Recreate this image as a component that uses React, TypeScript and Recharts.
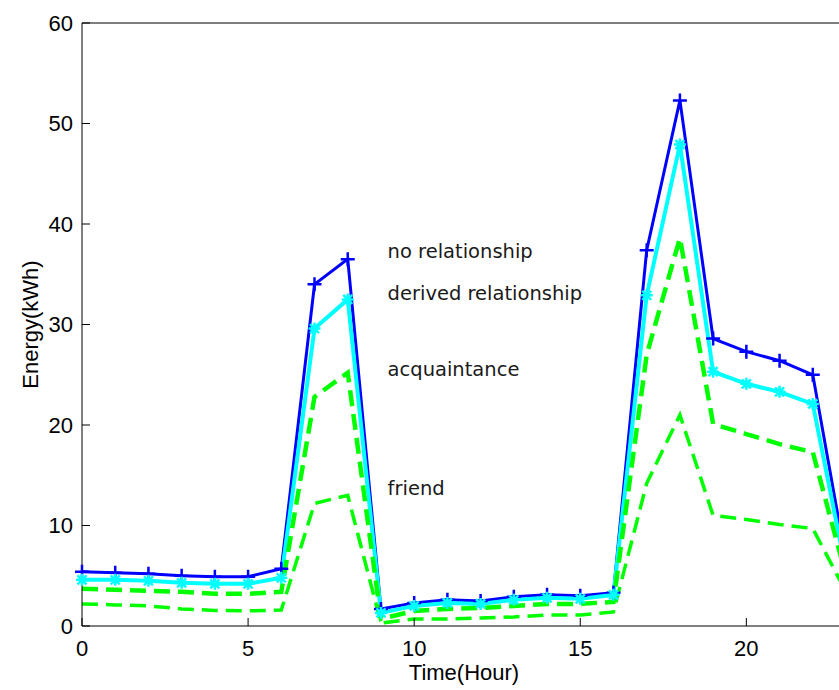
import { LineChart, Line, XAxis, YAxis, ReferenceDot } from "recharts"

// Hours of the day
const hours = [0, 1, 2, 3, 4, 5, 6, 7, 8, 9, 10, 11, 12, 13, 14, 15, 16, 17, 18, 19, 20, 21, 22, 23]

// Energy per hour (kWh)
const noRelationship = [5.4, 5.3, 5.2, 5.0, 4.9, 4.9, 5.7, 34.0, 36.5, 1.7, 2.3, 2.6, 2.5, 2.9, 3.1, 3.0, 3.3, 37.4, 52.3, 28.6, 27.3, 26.4, 25.0, 6.5]
const derivedRelationship = [4.6, 4.6, 4.5, 4.3, 4.2, 4.2, 4.8, 29.6, 32.5, 1.3, 2.0, 2.3, 2.2, 2.6, 2.8, 2.7, 3.1, 32.9, 47.9, 25.3, 24.1, 23.3, 22.1, 5.5]
const acquaintance = [3.7, 3.6, 3.5, 3.4, 3.2, 3.2, 3.4, 22.8, 25.2, 0.7, 1.5, 1.7, 1.8, 2.0, 2.2, 2.2, 2.4, 27.0, 38.6, 20.1, 19.1, 18.1, 17.3, 5.0]
const friend = [2.2, 2.1, 2.0, 1.7, 1.55, 1.5, 1.6, 12.2, 13.0, 0.3, 0.7, 0.7, 0.8, 0.9, 1.1, 1.1, 1.4, 14.2, 21.0, 11.0, 10.6, 10.1, 9.7, 3.4]

const xTicks = [0, 5, 10, 15, 20]
const yTicks = [0, 10, 20, 30, 40, 50, 60]

// in-plot text annotations (data coordinates)
const noteText = ["no relationship", "derived relationship", "acquaintance", "friend"]
const noteX = [9.2, 9.2, 9.2, 9.2]
const noteY = [37.3, 33.1, 25.5, 13.7]

const data = hours.map((h, i) => ({
  hour: h,
  noRel: noRelationship[i],
  derived: derivedRelationship[i],
  acq: acquaintance[i],
  friend: friend[i],
}))

const tickFont = { fontSize: 22, fill: "#000", fontFamily: "Liberation Sans, Arial, sans-serif" }

function PlusDot(props: any) {
  const { cx, cy, index } = props
  if (cx == null || cy == null) return <g key={`pl-${index}`} />
  const s = 7
  return (
    <path
      key={`pl-${index}`}
      d={`M${cx - s},${cy}H${cx + s}M${cx},${cy - s}V${cy + s}`}
      stroke="#0000ff"
      strokeWidth={2.5}
      fill="none"
    />
  )
}

function StarDot(props: any) {
  const { cx, cy, index } = props
  if (cx == null || cy == null) return <g key={`st-${index}`} />
  const s = 6
  const d = 4.5
  return (
    <path
      key={`st-${index}`}
      d={`M${cx - s},${cy}H${cx + s}M${cx},${cy - s}V${cy + s}M${cx - d},${cy - d}L${cx + d},${cy + d}M${cx - d},${cy + d}L${cx + d},${cy - d}`}
      stroke="#00ffff"
      strokeWidth={2.5}
      fill="none"
    />
  )
}

export default function App() {
  return (
    <div
      style={{
        position: "fixed",
        left: 0,
        top: 0,
        width: 839,
        height: 690,
        overflow: "hidden",
        background: "#fff",
      }}
    >
      <LineChart
        width={880}
        height={690}
        data={data}
        margin={{ top: 22, right: 14, left: 0, bottom: 0 }}
      >
        <XAxis
          xAxisId="bottom"
          dataKey="hour"
          type="number"
          domain={[0, 23]}
          ticks={xTicks}
          height={64}
          tickSize={-8}
          tickMargin={22}
          tick={tickFont}
          axisLine={{ stroke: "#000" }}
          tickLine={{ stroke: "#000" }}
          label={{
            value: "Time(Hour)",
            position: "insideBottom",
            offset: 10,
            style: { fontSize: 22, fill: "#000", fontFamily: "Liberation Sans, Arial, sans-serif" },
          }}
        />
        <XAxis
          xAxisId="top"
          orientation="top"
          type="number"
          domain={[0, 23]}
          ticks={xTicks}
          height={1}
          tickSize={-8}
          tick={false}
          axisLine={{ stroke: "#000" }}
          tickLine={{ stroke: "#000" }}
        />
        <YAxis
          yAxisId="left"
          type="number"
          domain={[0, 60]}
          ticks={yTicks}
          width={82}
          tickSize={-8}
          tickMargin={17}
          tick={tickFont}
          axisLine={{ stroke: "#000" }}
          tickLine={{ stroke: "#000" }}
          label={{
            value: "Energy(kWh)",
            angle: -90,
            position: "insideLeft",
            offset: 30,
            style: { textAnchor: "middle", fontSize: 22, fill: "#000", fontFamily: "Liberation Sans, Arial, sans-serif" },
          }}
        />
        <YAxis
          yAxisId="right"
          orientation="right"
          type="number"
          domain={[0, 60]}
          ticks={yTicks}
          width={20}
          tickSize={-8}
          tick={false}
          axisLine={{ stroke: "#000" }}
          tickLine={{ stroke: "#000" }}
        />

        <Line
          xAxisId="bottom"
          yAxisId="left"
          type="linear"
          dataKey="noRel"
          stroke="#0000ff"
          strokeWidth={3}
          dot={(p: any) => <PlusDot {...p} />}
          activeDot={false}
          isAnimationActive={false}
        />
        <Line
          xAxisId="bottom"
          yAxisId="left"
          type="linear"
          dataKey="derived"
          stroke="#00ffff"
          strokeWidth={4}
          dot={(p: any) => <StarDot {...p} />}
          activeDot={false}
          isAnimationActive={false}
        />
        <Line
          xAxisId="bottom"
          yAxisId="left"
          type="linear"
          dataKey="acq"
          stroke="#00ff00"
          strokeWidth={4.5}
          strokeDasharray="16 8"
          dot={false}
          activeDot={false}
          isAnimationActive={false}
        />
        <Line
          xAxisId="bottom"
          yAxisId="left"
          type="linear"
          dataKey="friend"
          stroke="#00ff00"
          strokeWidth={3.5}
          strokeDasharray="16 8"
          dot={false}
          activeDot={false}
          isAnimationActive={false}
        />

        {noteText.map((txt, i) => (
          <ReferenceDot
            key={txt}
            xAxisId="bottom"
            yAxisId="left"
            x={noteX[i]}
            y={noteY[i]}
            r={0}
            fill="none"
            stroke="none"
            label={(lp: any) => (
              <text
                x={lp.viewBox.x}
                y={lp.viewBox.y}
                dominantBaseline="central"
                fontSize={19.5}
                fontFamily="DejaVu Sans, sans-serif"
                fill="#1a1a1a"
              >
                {txt}
              </text>
            )}
          />
        ))}
      </LineChart>
    </div>
  )
}
